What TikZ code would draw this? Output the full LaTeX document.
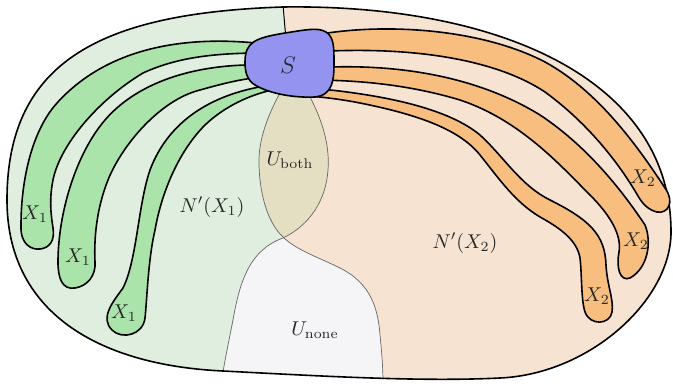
\documentclass[tikz,border=0pt]{standalone}
\definecolor{gLight}{RGB}{223,238,222}
\definecolor{oLight}{RGB}{247,227,210}
\definecolor{gFing}{RGB}{170,228,170}
\definecolor{oFing}{RGB}{247,190,128}
\definecolor{sBlue}{RGB}{148,148,240}
\definecolor{tanBoth}{RGB}{228,222,194}
\definecolor{grayNone}{RGB}{245,244,246}
\newcommand{\outerline}{(283,7) .. controls (103,13) and (7,60) .. (7,200) .. controls (7,310) and (95,365) .. (223,371) .. controls (320,376) and (420,382) .. (500,378) .. controls (590,374) and (671,300) .. (671,232) .. controls (671,80) and (500,4) .. cycle}
\newcommand{\greenedge}{(310,97) .. controls (322,120) and (330,145) .. (328,170) .. controls (326,200) and (310,225) .. (283,238) .. controls (250,250) and (240,280) .. (233,320) .. controls (228,345) and (225,360) .. (223,372)}
\newcommand{\orangeedge}{(280,93) .. controls (268,115) and (258,140) .. (259,165) .. controls (260,200) and (270,225) .. (283,237) .. controls (296,250) and (320,258) .. (340,268) .. controls (372,284) and (378,310) .. (380,335) .. controls (382,355) and (383,370) .. (383,382)}
\newcommand{\greenpoly}{(283,-10) -- (286,33) -- \greenedge -- (222,400) -- (-10,400) -- (-10,-10) -- cycle}
\newcommand{\orangepoly}{(283,-10) -- (286,33) -- \orangeedge -- (384,400) -- (700,400) -- (700,-10) -- cycle}
\tikzset{
  region/.style={draw=gray!80!black, line width=0.35pt},
  finger/.style={draw=black, line width=0.8pt},
  lbl/.style={inner sep=0pt, text=black!85},
}
\begin{document}
\begin{tikzpicture}[x=0.5pt,y=-0.5pt]
\useasboundingbox (0,0) rectangle (673,384);
% regions
\begin{scope}
  \clip \outerline;
  \fill[grayNone] (-10,-10) rectangle (700,400);
  \fill[gLight] \greenpoly;
  \fill[oLight] \orangepoly;
  \begin{scope}
    \clip \greenpoly;
    \fill[tanBoth] \orangepoly;
  \end{scope}
  \draw[region] \greenedge;
  \draw[region] \orangeedge;
  \draw[black, line width=0.5pt] (283,5) -- (286,40);
\end{scope}
\draw[black, line width=0.8pt] \outerline;
% green fingers
\draw[finger, fill=gFing] (265,44) .. controls (180,34) and (105,50) .. (57,103) .. controls (30,133) and (21,185) .. (21,225)
  .. controls (20,245) and (32,250) .. (40,249) .. controls (50,248) and (55,240) .. (53,228)
  .. controls (51,215) and (49,200) .. (53,180) .. controls (60,145) and (98,100) .. (143,73)
  .. controls (180,56) and (220,53) .. (265,53) -- cycle;
\draw[finger, fill=gFing] (265,65) .. controls (190,63) and (135,85) .. (105,120) .. controls (75,155) and (58,215) .. (58,262)
  .. controls (58,278) and (62,290) .. (75,288) .. controls (88,286) and (96,275) .. (95,262)
  .. controls (94,240) and (96,210) .. (108,180) .. controls (122,145) and (160,100) .. (200,90)
  .. controls (225,83) and (245,78) .. (265,77) -- cycle;
\draw[finger, fill=gFing] (265,86) .. controls (210,95) and (168,122) .. (150,170) .. controls (138,205) and (137,260) .. (123,288)
  .. controls (112,303) and (100,318) .. (112,330) .. controls (122,340) and (143,335) .. (145,318)
  .. controls (147,300) and (148,260) .. (155,230) .. controls (162,190) and (180,150) .. (205,125)
  .. controls (225,106) and (250,95) .. (272,90) -- cycle;
% orange fingers
\draw[finger, fill=oFing] (310,36) .. controls (380,22) and (480,28) .. (545,62) .. controls (600,92) and (640,150) .. (665,188)
  .. controls (675,202) and (668,214) .. (657,212) .. controls (648,210) and (642,203) .. (638,196)
  .. controls (620,165) and (590,125) .. (545,92) .. controls (500,62) and (420,45) .. (310,52) -- cycle;
\draw[finger, fill=oFing] (310,68) .. controls (400,62) and (480,78) .. (540,115) .. controls (590,148) and (625,195) .. (645,225)
  .. controls (652,242) and (648,268) .. (630,278) .. controls (620,282) and (616,268) .. (619,252)
  .. controls (622,235) and (610,215) .. (590,195) .. controls (560,165) and (520,120) .. (460,100)
  .. controls (410,85) and (360,80) .. (310,80) -- cycle;
\draw[finger, fill=oFing] (310,88) .. controls (390,95) and (450,110) .. (480,135) .. controls (505,158) and (520,185) .. (550,200)
  .. controls (590,220) and (605,235) .. (606,265) .. controls (607,285) and (614,300) .. (612,312)
  .. controls (610,325) and (590,326) .. (585,312) .. controls (581,300) and (582,275) .. (580,258)
  .. controls (577,240) and (560,228) .. (540,217) .. controls (515,202) and (500,180) .. (480,155)
  .. controls (460,130) and (420,115) .. (360,103) .. controls (340,99) and (320,97) .. (310,96) -- cycle;
% S
\draw[finger, fill=sBlue] (245,62) .. controls (245,42) and (255,38) .. (285,33) .. controls (305,30) and (318,27) .. (326,32)
  .. controls (334,37) and (334,48) .. (334,62) .. controls (334,80) and (333,95) .. (315,97)
  .. controls (295,98) and (270,94) .. (255,85) .. controls (247,80) and (245,72) .. cycle;
\node[lbl] (s) at (288,65) {\large $S$};
% labels
\node[lbl] (x1a) at (35,214) {$X_1$};
\node[lbl] (x1b) at (78,257) {$X_1$};
\node[lbl] (x1c) at (124,313) {$X_1$};
\node[lbl] (x2a) at (643,178) {$X_2$};
\node[lbl] (x2b) at (636,241) {$X_2$};
\node[lbl] (x2c) at (597,296) {$X_2$};
\node[lbl] (n1) at (212,207) {$N'(X_1)$};
\node[lbl] (n2) at (465,243) {$N'(X_2)$};
\node[lbl] (ub) at (290,160) {$U_{\mathrm{both}}$};
\node[lbl] (un) at (315,330) {$U_{\mathrm{none}}$};
\end{tikzpicture}
\end{document}
